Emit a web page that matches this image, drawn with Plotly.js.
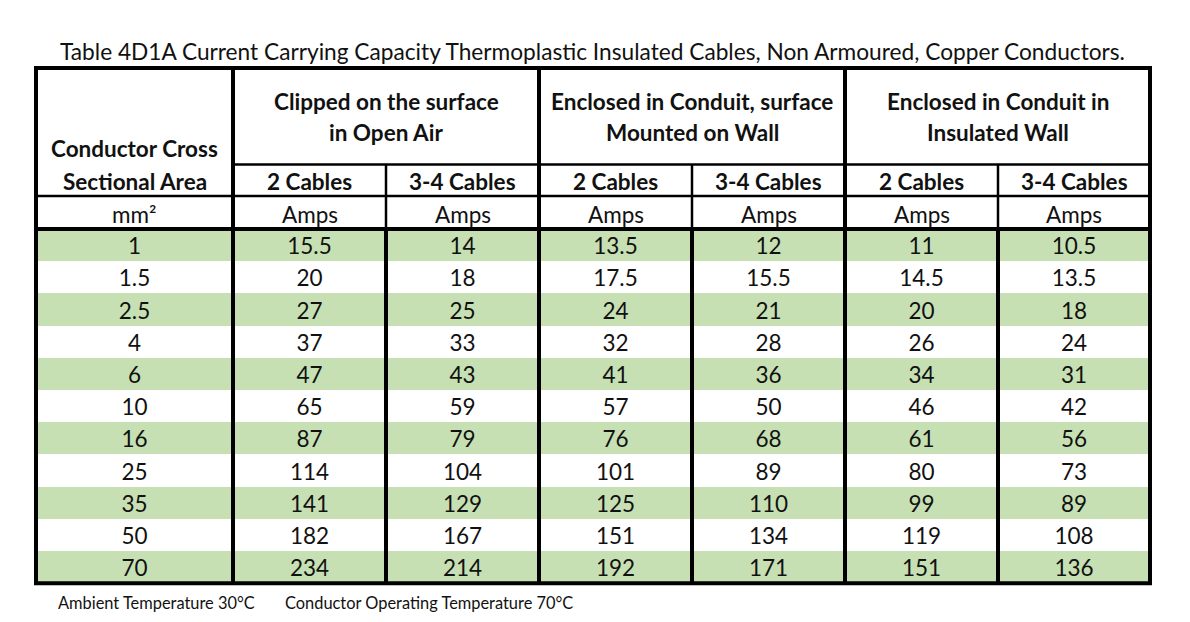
<!DOCTYPE html>
<html>
<head>
<meta charset="utf-8">
<script src="https://cdn.plot.ly/plotly-3.0.1.min.js"></script>
<style>html,body{margin:0;padding:0;background:#fff;}#chart{width:1190px;height:622px;}</style>
</head>
<body>
<div id="chart"></div>
<script>
// ---- DATA ----
var titleText = 'Table 4D1A Current Carrying Capacity Thermoplastic Insulated Cables, Non Armoured, Copper Conductors.';
var footerLeft = 'Ambient Temperature 30°C';
var footerRight = 'Conductor Operating Temperature 70°C';
var firstHeader = ['Conductor Cross', 'Sectional Area'];
var groupHeaders = [
  ['Clipped on the surface', 'in Open Air'],
  ['Enclosed in Conduit, surface', 'Mounted on Wall'],
  ['Enclosed in Conduit in', 'Insulated Wall']
];
var subHeaders = ['2 Cables', '3-4 Cables'];
var unitFirst = 'mm²';
var unitOther = 'Amps';
var sizes = ['1', '1.5', '2.5', '4', '6', '10', '16', '25', '35', '50', '70'];
var clipped2 = [15.5, 20, 27, 37, 47, 65, 87, 114, 141, 182, 234];
var clipped34 = [14, 18, 25, 33, 43, 59, 79, 104, 129, 167, 214];
var conduit2 = [13.5, 17.5, 24, 32, 41, 57, 76, 101, 125, 151, 192];
var conduit34 = [12, 15.5, 21, 28, 36, 50, 68, 89, 110, 134, 171];
var insulated2 = [11, 14.5, 20, 26, 34, 46, 61, 80, 99, 119, 151];
var insulated34 = [10.5, 13.5, 18, 24, 31, 42, 56, 73, 89, 108, 136];

// ---- STYLE / LAYOUT GEOMETRY ----
var FONT = 'Lato, "Open Sans", sans-serif';
var TXT = '#111111';
var GREEN = '#C6E0B4';
var x0 = 36;
var colWidths = [197, 153, 153, 153, 153, 153, 152];
var yTop = 68, ySub = 164.5, yUnit = 196, yData = 229;
var rowH = 32.2;
var THICK = 4, THIN = 2.5;
var textNudge = 3.5;
var BODY = 22.5, HEAD = 22.5;

var colEdges = [x0];
colWidths.forEach(function (w) { colEdges.push(colEdges[colEdges.length - 1] + w); });
var colCenters = colWidths.map(function (w, i) { return colEdges[i] + w / 2; });
var nRows = sizes.length;
var rowEdges = [];
for (var r = 0; r <= nRows; r++) rowEdges.push(yData + r * rowH);
var rowCenters = sizes.map(function (s, i) { return yData + (i + 0.5) * rowH; });
var yBottom = rowEdges[nRows];
var xRight = colEdges[colEdges.length - 1];

var columns = [sizes, clipped2, clipped34, conduit2, conduit34, insulated2, insulated34];

// stripe background via heatmap
var z = sizes.map(function (s, i) { return colWidths.map(function () { return i % 2 === 0 ? 1 : 0; }); });
var traces = [{
  type: 'heatmap', x: colEdges, y: rowEdges, z: z,
  colorscale: [[0, '#ffffff'], [1, GREEN]], zmin: 0, zmax: 1,
  showscale: false, hoverinfo: 'skip'
}];

// data text
var tx = [], ty = [], tt = [];
columns.forEach(function (col, c) {
  col.forEach(function (v, r) { tx.push(colCenters[c]); ty.push(rowCenters[r] + textNudge); tt.push(String(v)); });
});
traces.push({
  type: 'scatter', mode: 'text', x: tx, y: ty, text: tt,
  textposition: 'middle center', textfont: { family: FONT, size: BODY, color: TXT },
  hoverinfo: 'skip', showlegend: false, cliponaxis: false
});

// annotations
var ann = [];
function addText(x, y, text, opts) {
  opts = opts || {};
  ann.push({
    xref: 'x', yref: 'y', x: x, y: y, text: text, showarrow: false,
    xanchor: opts.xanchor || 'center', yanchor: 'middle',
    font: { family: FONT, size: opts.size || BODY, color: opts.color || TXT, weight: opts.bold ? 'bold' : 'normal' }
  });
}
addText(592, 51, titleText, { size: 22.7, color: '#111' });
addText(colCenters[0], 148, firstHeader[0], { bold: true, size: HEAD });
addText(colCenters[0], 181, firstHeader[1], { bold: true, size: HEAD });
groupHeaders.forEach(function (g, i) {
  var cx = (colEdges[1 + 2 * i] + colEdges[3 + 2 * i]) / 2;
  addText(cx, 101, g[0], { bold: true, size: HEAD });
  addText(cx, 132, g[1], { bold: true, size: HEAD });
});
for (var c = 1; c < colCenters.length; c++) {
  addText(colCenters[c], 181, subHeaders[(c - 1) % 2], { bold: true, size: HEAD });
  addText(colCenters[c], 214, unitOther);
}
addText(colCenters[0], 214, unitFirst);
addText(56, 602, footerLeft, { size: 16.4, xanchor: 'left' });
addText(283, 602, footerRight, { size: 16.4, xanchor: 'left' });

// grid lines
var shapes = [];
function line(xa, ya, xb, yb, w) {
  shapes.push({ type: 'line', xref: 'x', yref: 'y', x0: xa, y0: ya, x1: xb, y1: yb, line: { color: '#000', width: w } });
}
line(colEdges[1], ySub, xRight, ySub, THIN);
line(x0, yUnit, xRight, yUnit, THIN);
line(x0, yData, xRight, yData, THICK);
[2, 4, 6].forEach(function (i) {
  line(colEdges[i], ySub, colEdges[i], yData, THIN);
  line(colEdges[i], yData, colEdges[i], yBottom, THICK);
});
[1, 3, 5].forEach(function (i) { line(colEdges[i], yTop, colEdges[i], yBottom, THICK); });
shapes.push({ type: 'rect', xref: 'x', yref: 'y', x0: x0, y0: yTop, x1: xRight, y1: yBottom, line: { color: '#000', width: THICK } });

var layout = {
  width: 1190, height: 622, margin: { l: 0, r: 0, t: 0, b: 0 },
  paper_bgcolor: '#ffffff', plot_bgcolor: '#ffffff', showlegend: false,
  xaxis: { range: [0, 1190], visible: false, fixedrange: true },
  yaxis: { range: [622, 0], visible: false, fixedrange: true },
  annotations: ann, shapes: shapes
};
Plotly.newPlot('chart', traces, layout, { staticPlot: true, displayModeBar: false });
</script>
</body>
</html>
